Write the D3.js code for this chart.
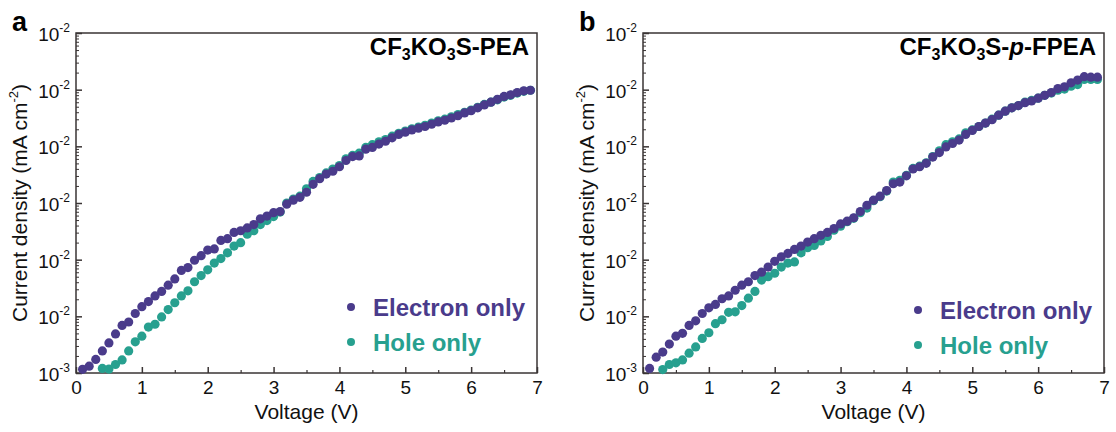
<!DOCTYPE html>
<html>
<head>
<meta charset="utf-8">
<script src="https://cdn.jsdelivr.net/npm/d3@7"></script>
<style>
  body { margin: 0; background: #fff; }
  text { font-family: "Liberation Sans", Arial, Helvetica, sans-serif; }
</style>
</head>
<body>
<div id="chart"></div>
<script>
// svg dimensions
var svgWidth = 1116;
var svgHeight = 432;

// voltage sweep (V)
var volts = [0.1,0.2,0.3,0.4,0.5,0.6,0.7,0.8,0.9,1.0,
  1.1,1.2,1.3,1.4,1.5,1.6,1.7,1.8,1.9,2.0,
  2.1,2.2,2.3,2.4,2.5,2.6,2.7,2.8,2.9,3.0,
  3.1,3.2,3.3,3.4,3.5,3.6,3.7,3.8,3.9,4.0,
  4.1,4.2,4.3,4.4,4.5,4.6,4.7,4.8,4.9,5.0,
  5.1,5.2,5.3,5.4,5.5,5.6,5.7,5.8,5.9,6.0,
  6.1,6.2,6.3,6.4,6.5,6.6,6.7,6.8,6.9];

// current density, in decades above the bottom of the axis
var peaElectron = [0.065,0.12,0.24,0.39,0.53,0.69,0.84,0.90,1.05,1.17,
  1.26,1.36,1.44,1.55,1.66,1.81,1.86,1.99,2.07,2.17,
  2.19,2.34,2.37,2.48,2.51,2.56,2.62,2.72,2.77,2.83,
  2.85,2.98,3.05,3.10,3.19,3.33,3.43,3.51,3.56,3.64,
  3.75,3.82,3.83,3.95,3.98,4.04,4.09,4.15,4.21,4.25,
  4.29,4.32,4.35,4.39,4.43,4.46,4.50,4.54,4.59,4.63,
  4.68,4.73,4.78,4.83,4.88,4.91,4.95,4.98,4.99];
// hole only starts at 0.4 V
var peaHole = [0.08,0.07,0.15,0.23,0.39,0.55,0.65,
  0.81,0.86,0.99,1.12,1.24,1.36,1.45,1.61,1.72,1.82,
  1.94,2.02,2.12,2.24,2.30,2.45,2.51,2.62,2.69,2.76,
  2.84,3.00,3.07,3.12,3.25,3.38,3.45,3.53,3.60,3.66,
  3.78,3.84,3.88,3.98,4.03,4.08,4.12,4.18,4.23,4.27,
  4.31,4.34,4.37,4.41,4.45,4.48,4.52,4.56,4.60,4.64,
  4.69,4.74,4.78,4.82,4.87,4.90,4.94,4.97,4.99];

var fpeaElectron = [0.08,0.28,0.37,0.51,0.65,0.70,0.84,0.92,1.05,1.15,
  1.21,1.31,1.36,1.46,1.55,1.61,1.72,1.78,1.87,1.97,
  2.05,2.11,2.18,2.24,2.31,2.37,2.43,2.48,2.55,2.63,
  2.68,2.74,2.85,2.96,3.05,3.12,3.22,3.34,3.37,3.48,
  3.60,3.64,3.70,3.81,3.89,3.99,4.05,4.11,4.21,4.28,
  4.35,4.41,4.47,4.55,4.62,4.68,4.72,4.77,4.80,4.85,
  4.90,4.95,5.02,5.05,5.12,5.17,5.23,5.22,5.22];
// hole only starts at 0.3 V
var fpeaHole = [0.06,0.15,0.18,0.23,0.35,0.46,0.61,0.71,
  0.87,0.94,1.07,1.08,1.19,1.32,1.44,1.64,1.70,1.76,
  1.87,1.94,1.96,2.12,2.21,2.25,2.33,2.41,2.52,2.59,
  2.67,2.73,2.83,2.91,3.04,3.11,3.21,3.37,3.40,3.49,
  3.61,3.65,3.71,3.82,3.92,4.03,4.08,4.13,4.24,4.29,
  4.35,4.41,4.48,4.55,4.62,4.68,4.72,4.78,4.81,4.85,
  4.90,4.94,4.99,5.01,5.06,5.09,5.18,5.18,5.18];

// tick labels (as printed in the figure)
var xTicks = [0, 1, 2, 3, 4, 5, 6, 7];
var xMinorTicks = [0.5, 1.5, 2.5, 3.5, 4.5, 5.5, 6.5];
var yTickExps = ["-3", "-2", "-2", "-2", "-2", "-2", "-2"];
var seriesNames = ["Electron only", "Hole only"];
var colors = ["#4a3b8b", "#27a08f"];
var axisColor = "#3a3434";

// title pieces: [text, kind] kind: n normal, s subscript, i italic
var panels = [
  {label: "a", left: 76, right: 537,
   title: [["CF","n"],["3","s"],["KO","n"],["3","s"],["S-PEA","n"]],
   elec: peaElectron, hole: peaHole, holeStart: 3, legendY: 307},
  {label: "b", left: 643, right: 1104,
   title: [["CF","n"],["3","s"],["KO","n"],["3","s"],["S-","n"],["p","i"],["-FPEA","n"]],
   elec: fpeaElectron, hole: fpeaHole, holeStart: 2, legendY: 310}
];
var plotTop = 33, plotBottom = 373;

var svg = d3.select("#chart")
  .append("svg")
  .attr("width", svgWidth)
  .attr("height", svgHeight);

panels.forEach(function(p) {
  var width = p.right - p.left;
  var height = plotBottom - plotTop;
  var g = svg.append("g").attr("transform", `translate(${p.left}, ${plotTop})`);

  var x = d3.scaleLinear().domain([0, 7]).range([0, width]);
  var y = d3.scaleLog().domain([1, 1e6]).range([height, 0]);
  var toJ = d => Math.pow(10, d);

  // frame
  g.append("rect")
    .attr("width", width).attr("height", height)
    .attr("fill", "none").attr("stroke", axisColor).attr("stroke-width", 1.5);

  // minor y ticks
  var yMinor = [];
  for (var e = 0; e < 6; e++) for (var m = 2; m <= 9; m++) yMinor.push(m * Math.pow(10, e));
  g.append("g")
    .call(d3.axisLeft(y).tickValues(yMinor).tickSize(-3).tickFormat(""))
    .call(s => s.select(".domain").remove())
    .selectAll("line").attr("stroke", axisColor).attr("stroke-width", 1);

  // major y ticks
  var yMajor = yTickExps.map((d, i) => Math.pow(10, i));
  var yAxis = g.append("g")
    .call(d3.axisLeft(y).tickValues(yMajor).tickSizeInner(-6).tickSizeOuter(0).tickPadding(6).tickFormat(""))
    .call(s => s.select(".domain").remove());
  yAxis.selectAll("line").attr("stroke", axisColor).attr("stroke-width", 1.5);
  yAxis.selectAll("text")
    .attr("fill", "#111").attr("font-size", 19).attr("dy", "0.4em")
    .each(function(d, i) {
      var t = d3.select(this);
      t.append("tspan").text("10");
      t.append("tspan").attr("font-size", 12).attr("dy", "-0.75em").text(yTickExps[i]);
    });

  // x ticks
  g.append("g")
    .attr("transform", `translate(0, ${height})`)
    .call(d3.axisBottom(x).tickValues(xMinorTicks).tickSize(-3).tickFormat(""))
    .call(s => s.select(".domain").remove())
    .selectAll("line").attr("stroke", axisColor).attr("stroke-width", 1.2);
  var xAxis = g.append("g")
    .attr("transform", `translate(0, ${height})`)
    .call(d3.axisBottom(x).tickValues(xTicks).tickSizeInner(-6).tickSizeOuter(0).tickPadding(8).tickFormat(d3.format("d")))
    .call(s => s.select(".domain").remove());
  xAxis.selectAll("line").attr("stroke", axisColor).attr("stroke-width", 1.5);
  xAxis.selectAll("text").attr("fill", "#111").attr("font-size", 19);

  // axis titles
  g.append("text")
    .attr("x", width / 2).attr("y", height + 46)
    .attr("text-anchor", "middle").attr("font-size", 21).attr("fill", "#111")
    .text("Voltage (V)");
  var yt = g.append("text")
    .attr("transform", `translate(${-49}, ${height / 2}) rotate(-90)`)
    .attr("text-anchor", "middle").attr("font-size", 21).attr("fill", "#111");
  yt.append("tspan").text("Current density (mA cm");
  yt.append("tspan").attr("font-size", 13).attr("dy", "-0.7em").text("-2");
  yt.append("tspan").attr("dy", "0.45em").text(")");

  // panel letter
  svg.append("text")
    .attr("x", p.left - 64).attr("y", 31)
    .attr("font-size", 27).attr("font-weight", "bold").attr("fill", "#000")
    .text(p.label);

  // title, top right inside the frame
  var tt = g.append("text")
    .attr("x", width - 8).attr("y", 22)
    .attr("text-anchor", "end").attr("font-size", 24).attr("font-weight", "bold").attr("fill", "#000");
  var prevSub = false;
  p.title.forEach(function(piece) {
    var ts = tt.append("tspan").text(piece[0]);
    if (piece[1] === "s") {
      ts.attr("font-size", 16).attr("dy", 5);
      prevSub = true;
    } else {
      if (prevSub) ts.attr("dy", -5);
      prevSub = false;
      if (piece[1] === "i") ts.attr("font-style", "italic");
    }
  });

  // points
  var hv = volts.slice(p.holeStart);
  var holeData = p.hole.map((d, i) => ({v: hv[i], j: d}));
  var elecData = p.elec.map((d, i) => ({v: volts[i], j: d}));
  g.append("g").selectAll("circle")
    .data(holeData).enter().append("circle")
    .attr("cx", d => x(d.v)).attr("cy", d => y(toJ(d.j)))
    .attr("r", 4.6).attr("fill", colors[1]);
  g.append("g").selectAll("circle")
    .data(elecData).enter().append("circle")
    .attr("cx", d => x(d.v)).attr("cy", d => y(toJ(d.j)))
    .attr("r", 4.6).attr("fill", colors[0]);

  // legend
  seriesNames.forEach(function(name, i) {
    var ly = p.legendY - plotTop + i * 35;
    g.append("circle").attr("cx", 275).attr("cy", ly).attr("r", 4).attr("fill", colors[i]);
    g.append("text").attr("x", 297).attr("y", ly + 9)
      .attr("font-size", 24).attr("font-weight", "bold").attr("fill", colors[i])
      .text(name);
  });
});
</script>
</body>
</html>
